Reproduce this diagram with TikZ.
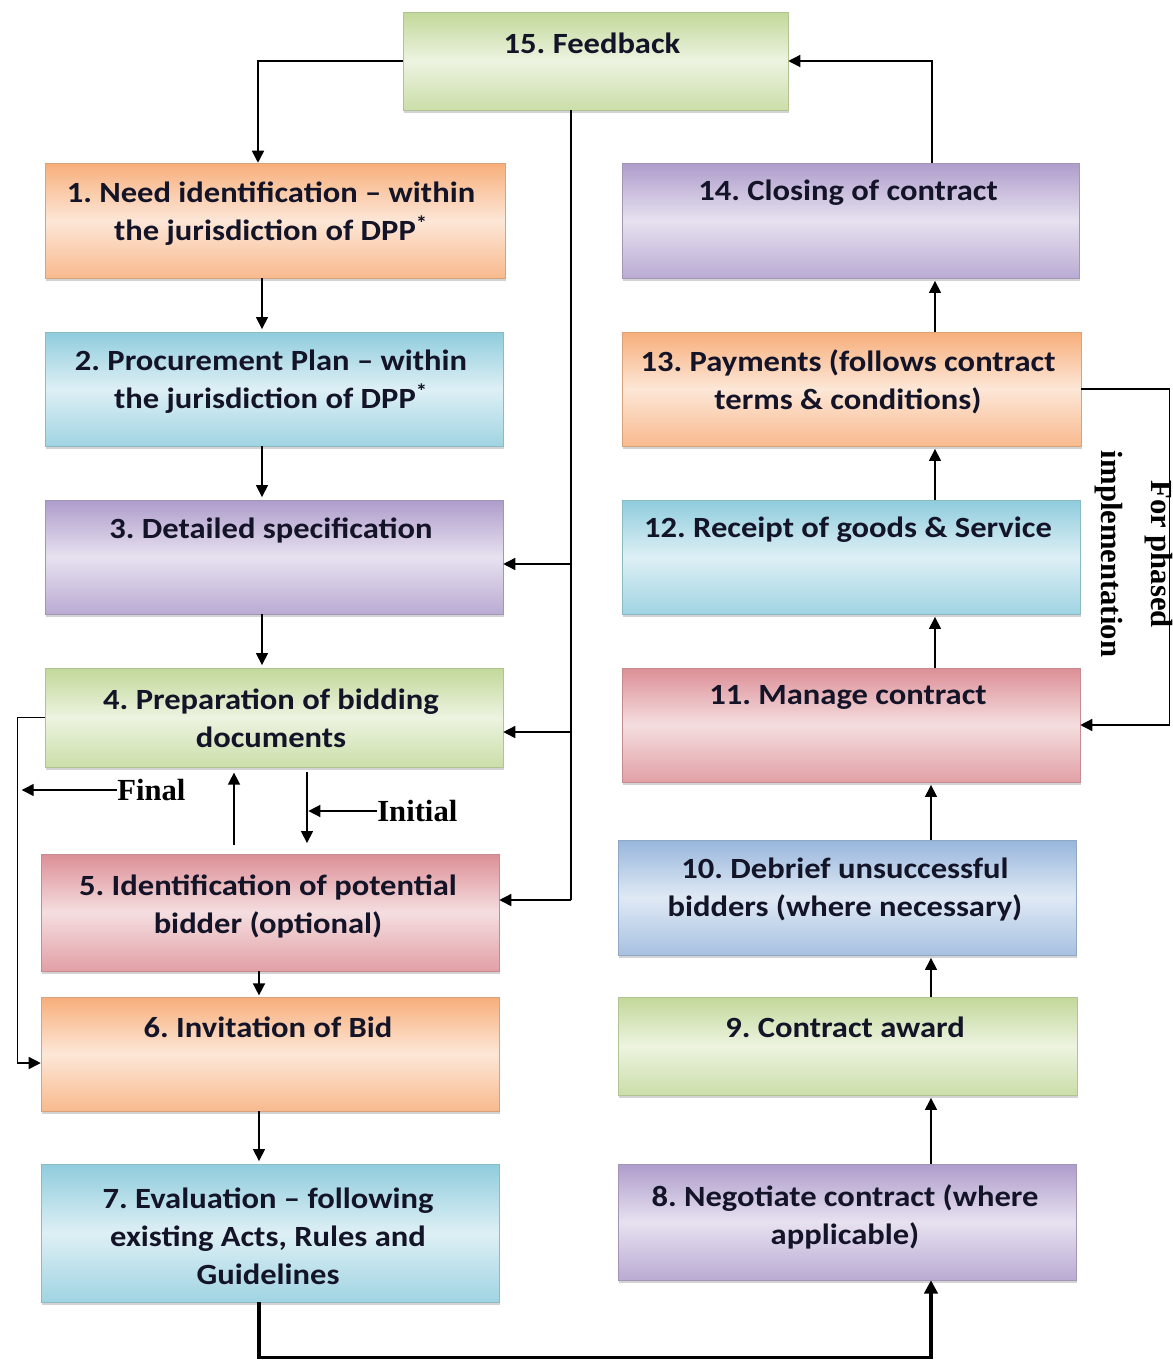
\documentclass[tikz,border=0pt]{standalone}
\usepackage{fontspec}
\setmainfont{Carlito}[FakeStretch=1.11]
\newfontfamily\tnr{Liberation Serif}
\usetikzlibrary{arrows.meta,calc,shadows}
\frenchspacing
\definecolor{corange}{HTML}{F7AE7A}
\definecolor{cblue}{HTML}{8FCCDD}
\definecolor{csteel}{HTML}{97B6DC}
\definecolor{cpurple}{HTML}{AE9CCB}
\definecolor{cgreen}{HTML}{C2D899}
\definecolor{cred}{HTML}{DC8F96}
\definecolor{ctext}{HTML}{141428}
\newcommand\procbox[6]{%
  \node[pbox, draw=#6!75!gray, top color=#6, bottom color=#6!85, middle color=#6!30,
        minimum width={(#4-#2)*0.75pt}, minimum height={(#5-#3)*0.75pt}]
        (#1) at ({(#2+#4)/2},{(#3+#5)/2}) {};}
\tikzset{
  pbox/.style={rectangle, inner sep=0pt, line width=0.4pt,
    drop shadow={shadow xshift=0.5pt, shadow yshift=-2.5pt, opacity=0.35}},
  ptxt/.style={align=center, font=\frenchspacing\fontsize{22}{28.5}\selectfont\bfseries, text=ctext, inner sep=0pt},
  lbl/.style={font=\tnr\fontsize{23}{28}\selectfont\bfseries, inner sep=0pt},
  arr/.style={line width=1.1pt, -{Triangle[length=9pt,width=9pt]}},
  arrthick/.style={line width=2.4pt, -{Triangle[length=10pt,width=10pt]}},
}
\begin{document}
\begin{tikzpicture}[x=0.75pt,y=-0.75pt]
\useasboundingbox (0,0) rectangle (1173,1360);
% boxes
\procbox{f15}{403}{12}{788}{110}{cgreen}
\procbox{f1}{45}{163}{505}{278}{corange}
\procbox{f2}{45}{332}{503}{446}{cblue}
\procbox{f3}{45}{500}{503}{614}{cpurple}
\procbox{f4}{45}{668}{503}{767}{cgreen}
\procbox{f5}{41}{854}{499}{971}{cred}
\procbox{f6}{41}{997}{499}{1111}{corange}
\procbox{f7}{41}{1164}{499}{1302}{cblue}
\procbox{f14}{622}{163}{1079}{278}{cpurple}
\procbox{f13}{622}{332}{1081}{446}{corange}
\procbox{f12}{622}{500}{1080}{614}{cblue}
\procbox{f11}{622}{668}{1080}{782}{cred}
\procbox{f10}{618}{840}{1076}{955}{csteel}
\procbox{f9}{618}{997}{1077}{1095}{cgreen}
\procbox{f8}{618}{1164}{1076}{1280}{cpurple}
% texts
\node[ptxt] (t15) at (592,43) {15. Feedback};
\node[ptxt] (t1) at (271,214) {1. Need identification -- within\\the jurisdiction of DPP\textsuperscript{*}};
\node[ptxt] (t2) at (271,382) {2. Procurement Plan -- within\\the jurisdiction of DPP\textsuperscript{*}};
\node[ptxt] (t3) at (271,530) {3. Detailed specification};
\node[ptxt] (t4) at (271,718) {4. Preparation of bidding\\documents};
\node[ptxt] (t5) at (268,906) {5. Identification of potential\\bidder (optional)};
\node[ptxt] (t6) at (268,1027) {6. Invitation of Bid};
\node[ptxt] (t7) at (268,1236) {7. Evaluation -- following\\existing Acts, Rules and\\Guidelines};
\node[ptxt] (t14) at (848,193) {14. Closing of contract};
\node[ptxt] (t13) at (848,382) {13. Payments (follows contract\\terms \& conditions)};
\node[ptxt] (t12) at (848,530) {12. Receipt of goods \& Service};
\node[ptxt] (t11) at (848,697) {11. Manage contract};
\node[ptxt] (t10) at (845,890) {10. Debrief unsuccessful\\bidders (where necessary)};
\node[ptxt] (t9) at (845,1027) {9. Contract award};
\node[ptxt] (t8) at (845,1217) {8. Negotiate contract (where\\applicable)};
% labels
\node[lbl, anchor=west] (tfinal) at (117,790) {Final};
\node[lbl, anchor=west] (tinit) at (377,811) {Initial};
\node[lbl, rotate=-90, align=center, font=\tnr\fontsize{23}{37}\selectfont\bfseries] (tphase) at (1134,554) {For phased\\implementation};
% feedback connectors
\draw[arr] (f15.west) -| ($(f1.north)+(-17,0)$);
\coordinate (fb) at ($(f15.south)+(-24.5,0)$);
\draw[line width=1.1pt] (fb) -- (fb |- 0,900) coordinate (fbend);
\draw[arr] (fbend) -- (fbend -| f5.east);
\draw[arr] (fb |- 0,564) -- (f3.east |- 0,564);
\draw[arr] (fb |- 0,732) -- (f4.east |- 0,732);
\draw[arr] ($(f14.north)+(81.5,0)$) |- (f15.east);
% left column
\draw[arr, shorten >=2pt] ($(f1.south)+(-13,0)$) coordinate (a1) -- (a1 |- f2.north);
\draw[arr, shorten >=2pt] ($(f2.south)+(-12,0)$) coordinate (a2) -- (a2 |- f3.north);
\draw[arr, shorten >=2pt] ($(f3.south)+(-12,0)$) coordinate (a3) -- (a3 |- f4.north);
\draw[arr, shorten >=8pt] ($(f4.south)+(33,5)$) coordinate (a4) -- (a4 |- f5.north);
\draw[arr, shorten >=1pt] (tinit.west) -- (tinit.west -| a4);
\draw[arr, shorten >=4pt] ($(f5.north)+(-36,-9)$) coordinate (a5) -- (a5 |- f4.south);
\coordinate (lft) at ($(f4.west)+(-27,0)$);
\draw[arr] (f4.west) -- (lft) |- ($(f6.west)+(0,9)$);
\draw[arr, shorten >=3pt] (tfinal.west) -- (tfinal.west -| lft);
\draw[arr, shorten >=1pt] ($(f5.south)+(-11,0)$) coordinate (a6) -- (a6 |- f6.north);
\draw[arr, shorten >=2pt] ($(f6.south)+(-11,0)$) coordinate (a7) -- (a7 |- f7.north);
% bottom
\draw[arrthick] ($(f7.south)+(-11,0)$) -- ++(0,55) -| ($(f8.south)+(84,0)$);
% right column
\draw[arr, shorten >=2pt] ($(f8.north)+(84,0)$) coordinate (b8) -- (b8 |- f9.south);
\draw[arr, shorten >=2pt] ($(f9.north)+(83.5,0)$) coordinate (b9) -- (b9 |- f10.south);
\draw[arr, shorten >=2pt] ($(f10.north)+(84,0)$) coordinate (b10) -- (b10 |- f11.south);
\draw[arr, shorten >=2pt] ($(f11.north)+(84,0)$) coordinate (b11) -- (b11 |- f12.south);
\draw[arr, shorten >=2pt] ($(f12.north)+(84,0)$) coordinate (b12) -- (b12 |- f13.south);
\draw[arr, shorten >=2pt] ($(f13.north)+(83.5,0)$) coordinate (b13) -- (b13 |- f14.south);
\draw[arr] (f13.east) -- ++(88,0) |- (f11.east);
\end{tikzpicture}
\end{document}
